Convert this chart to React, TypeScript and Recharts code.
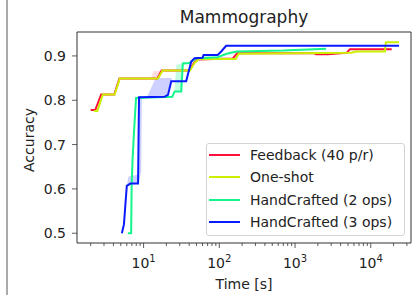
import {
  ComposedChart,
  Line,
  Area,
  XAxis,
  YAxis,
  ReferenceArea,
} from "recharts";

// accuracy over time (seconds)
const feedback = [
  { t: 2.0, acc: 0.778 },
  { t: 2.3, acc: 0.778 },
  { t: 2.75, acc: 0.813 },
  { t: 4.1, acc: 0.813 },
  { t: 4.8, acc: 0.849 },
  { t: 15.2, acc: 0.849 },
  { t: 17.3, acc: 0.867 },
  { t: 40, acc: 0.867 },
  { t: 46, acc: 0.884 },
  { t: 52, acc: 0.892 },
  { t: 150, acc: 0.894 },
  { t: 172, acc: 0.906 },
  { t: 1800, acc: 0.906 },
  { t: 1900, acc: 0.904 },
  { t: 2700, acc: 0.904 },
  { t: 4800, acc: 0.907 },
  { t: 5300, acc: 0.915 },
  { t: 18900, acc: 0.915 },
];

const oneShot = [
  { t: 2.2, acc: 0.776 },
  { t: 2.45, acc: 0.776 },
  { t: 2.9, acc: 0.813 },
  { t: 4.15, acc: 0.813 },
  { t: 4.85, acc: 0.849 },
  { t: 15.5, acc: 0.849 },
  { t: 17.8, acc: 0.867 },
  { t: 41, acc: 0.867 },
  { t: 47, acc: 0.884 },
  { t: 54, acc: 0.893 },
  { t: 165, acc: 0.893 },
  { t: 180, acc: 0.905 },
  { t: 5500, acc: 0.907 },
  { t: 6500, acc: 0.91 },
  { t: 15400, acc: 0.91 },
  { t: 15800, acc: 0.931 },
  { t: 23600, acc: 0.931 },
];

const handCrafted2 = [
  { t: 6.2, acc: 0.5 },
  { t: 6.85, acc: 0.5 },
  { t: 6.95, acc: 0.605 },
  { t: 7.15, acc: 0.665 },
  { t: 7.45, acc: 0.725 },
  { t: 7.95, acc: 0.805 },
  { t: 24, acc: 0.808 },
  { t: 25.7, acc: 0.82 },
  { t: 31.4, acc: 0.82 },
  { t: 33, acc: 0.883 },
  { t: 40, acc: 0.884 },
  { t: 44, acc: 0.889 },
  { t: 50, acc: 0.895 },
  { t: 95, acc: 0.897 },
  { t: 125, acc: 0.905 },
  { t: 170, acc: 0.91 },
  { t: 700, acc: 0.912 },
  { t: 1800, acc: 0.915 },
  { t: 2570, acc: 0.916 },
];

const handCrafted3 = [
  { t: 5.17, acc: 0.5 },
  { t: 5.5, acc: 0.52 },
  { t: 6.0, acc: 0.607 },
  { t: 6.7, acc: 0.612 },
  { t: 8.45, acc: 0.612 },
  { t: 8.7, acc: 0.807 },
  { t: 19, acc: 0.808 },
  { t: 21, acc: 0.812 },
  { t: 23.2, acc: 0.843 },
  { t: 36.5, acc: 0.843 },
  { t: 42.5, acc: 0.887 },
  { t: 47, acc: 0.895 },
  { t: 60, acc: 0.896 },
  { t: 62, acc: 0.902 },
  { t: 95, acc: 0.902 },
  { t: 106, acc: 0.91 },
  { t: 123, acc: 0.923 },
  { t: 23600, acc: 0.923 },
];

// spread bands [low, high]
const blueBand = [
  { t: 6.0, r: [0.607, 0.607] },
  { t: 6.3, r: [0.607, 0.628] },
  { t: 8.45, r: [0.612, 0.632] },
  { t: 8.6, r: [0.612, 0.807] },
  { t: 9.3, r: [0.64, 0.807] },
  { t: 9.5, r: [0.807, 0.807] },
  { t: 11, r: [0.807, 0.807] },
  { t: 14.5, r: [0.807, 0.85] },
  { t: 21, r: [0.812, 0.85] },
  { t: 23.2, r: [0.843, 0.85] },
  { t: 24, r: [0.843, 0.843] },
];

const greenBand = [
  { t: 25.7, r: [0.82, 0.82] },
  { t: 27, r: [0.82, 0.88] },
  { t: 32, r: [0.82, 0.883] },
  { t: 33, r: [0.883, 0.883] },
];

const redBand = [
  { t: 12.5, r: [0.849, 0.849] },
  { t: 13.5, r: [0.849, 0.866] },
  { t: 16.5, r: [0.852, 0.866] },
  { t: 17.5, r: [0.866, 0.866] },
];

const seriesNames = ["Feedback (40 p/r)", "One-shot", "HandCrafted (2 ops)", "HandCrafted (3 ops)"];
const seriesColors = ["#ff0f3c", "#ccf000", "#14f58c", "#0a1aff"];
const seriesData = [feedback, oneShot, handCrafted2, handCrafted3];

const yTicks = [0.5, 0.6, 0.7, 0.8, 0.9];
const majorTicks = [10, 100, 1000, 10000];
const majorExps = ["1", "2", "3", "4"];
const minorTicks = [
  2, 3, 4, 5, 6, 7, 8, 9,
  20, 30, 40, 50, 60, 70, 80, 90,
  200, 300, 400, 500, 600, 700, 800, 900,
  2000, 3000, 4000, 5000, 6000, 7000, 8000, 9000,
  20000, 30000,
];

const X_DOMAIN = [1.32, 34000];
const Y_DOMAIN = [0.478, 0.954];

const font = "'DejaVu Sans', sans-serif";
const ink = "#222";

const TimeTick = (props: any) => {
  const { x, y, payload } = props;
  const idx = majorTicks.indexOf(payload.value);
  const major = idx >= 0;
  return (
    <g>
      <line x1={x} x2={x} y1={y} y2={y + (major ? 5 : 3)} stroke="#333" strokeWidth={0.8} />
      {major && (
        <text x={x} y={y + 25} textAnchor="middle" fontSize={14} fill={ink} fontFamily={font}>
          10
          <tspan dy={-6} fontSize={10}>
            {majorExps[idx]}
          </tspan>
        </text>
      )}
    </g>
  );
};

const LegendBox = () => (
  <div
    style={{
      position: "absolute",
      left: 206,
      top: 143,
      width: 199,
      height: 93,
      boxSizing: "border-box",
      border: "1px solid #d4d4d4",
      borderRadius: 3,
      background: "rgba(255,255,255,0.8)",
    }}
  >
    {seriesNames.map((name, i) => (
      <div key={name} style={{ display: "flex", alignItems: "center", height: 22.3 }}>
        <div style={{ width: 31, height: 2, background: seriesColors[i], marginLeft: 2 }} />
        <span style={{ marginLeft: 10, fontSize: 14, color: ink, whiteSpace: "nowrap" }}>{name}</span>
      </div>
    ))}
  </div>
);

export default function App() {
  return (
    <div
      style={{
        position: "absolute",
        left: 0,
        top: 0,
        width: 416,
        height: 295,
        background: "#fff",
        fontFamily: font,
        overflow: "hidden",
      }}
    >
      <div style={{ position: "absolute", left: 6, top: 0, width: 2, height: 295, background: "#aaa" }} />

      <ComposedChart
        width={416}
        height={295}
        margin={{ top: 32, right: 5, bottom: 22, left: 27 }}
      >
        <XAxis
          type="number"
          dataKey="t"
          scale="log"
          domain={X_DOMAIN}
          allowDataOverflow
          ticks={[...majorTicks, ...minorTicks]}
          interval={0}
          tick={<TimeTick />}
          tickLine={false}
          tickSize={0}
          tickMargin={0}
          axisLine={false}
          height={30}
        />
        <YAxis
          type="number"
          domain={Y_DOMAIN}
          allowDataOverflow
          ticks={yTicks}
          tickFormatter={(v: number) => v.toFixed(1)}
          tick={{ fontSize: 14, fill: ink, fontFamily: font }}
          tickLine={{ stroke: "#333", strokeWidth: 0.8 }}
          tickSize={5}
          tickMargin={6}
          axisLine={false}
          width={50}
        />
        <ReferenceArea
          x1={X_DOMAIN[0]}
          x2={X_DOMAIN[1]}
          y1={Y_DOMAIN[0]}
          y2={Y_DOMAIN[1]}
          fill="none"
          stroke="#333"
          strokeWidth={1}
        />

        <Area data={redBand} dataKey="r" stroke="none" fill={seriesColors[0]} fillOpacity={0.15} isAnimationActive={false} />
        <Area data={greenBand} dataKey="r" stroke="none" fill={seriesColors[2]} fillOpacity={0.25} isAnimationActive={false} />
        <Area data={blueBand} dataKey="r" stroke="none" fill={seriesColors[3]} fillOpacity={0.2} isAnimationActive={false} />

        {seriesData.map((d, i) => (
          <Line
            key={seriesNames[i]}
            data={d}
            dataKey="acc"
            name={seriesNames[i]}
            stroke={seriesColors[i]}
            strokeWidth={2}
            dot={false}
            isAnimationActive={false}
          />
        ))}
      </ComposedChart>

      <LegendBox />

      <div
        style={{
          position: "absolute",
          left: 244,
          top: 17,
          transform: "translate(-50%, -50%)",
          fontSize: 17,
          color: ink,
          whiteSpace: "nowrap",
        }}
      >
        Mammography
      </div>
      <div
        style={{
          position: "absolute",
          left: 244,
          top: 284,
          transform: "translate(-50%, -50%)",
          fontSize: 14,
          color: ink,
          whiteSpace: "nowrap",
        }}
      >
        Time [s]
      </div>
      <div
        style={{
          position: "absolute",
          left: 29,
          top: 140,
          transform: "translate(-50%, -50%) rotate(-90deg)",
          fontSize: 14,
          color: ink,
          whiteSpace: "nowrap",
        }}
      >
        Accuracy
      </div>
    </div>
  );
}
